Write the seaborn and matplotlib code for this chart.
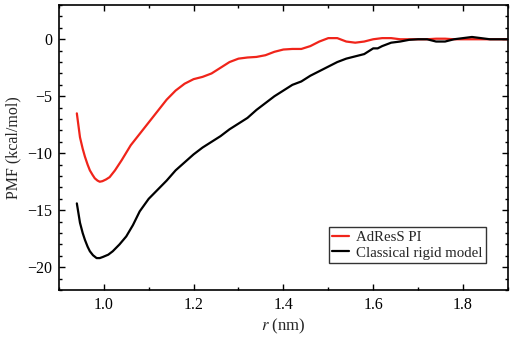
import pandas as pd
import matplotlib
matplotlib.use("Agg")
import matplotlib.pyplot as plt
import seaborn as sns
from matplotlib.ticker import MultipleLocator, FormatStrFormatter

# AdResS PI curve
r_adress = [0.940, 0.947, 0.953, 0.958, 0.964, 0.969, 0.975, 0.980, 0.986, 0.991, 0.997,
            1.005, 1.013, 1.025, 1.04, 1.06, 1.08, 1.10,
            1.12, 1.14, 1.16, 1.18, 1.20, 1.22, 1.24, 1.26, 1.28, 1.30, 1.32, 1.34,
            1.36, 1.38, 1.40, 1.42, 1.44, 1.46, 1.48, 1.50, 1.52, 1.54, 1.56, 1.58,
            1.60, 1.62, 1.64, 1.66, 1.68, 1.70, 1.72, 1.74, 1.76, 1.78, 1.80, 1.82,
            1.84, 1.86, 1.88, 1.90]
pmf_adress = [-6.5, -8.6, -9.6, -10.3, -11.0, -11.5, -11.9, -12.2, -12.4, -12.5, -12.45,
              -12.3, -12.1, -11.5, -10.6, -9.3, -8.3, -7.3,
              -6.3, -5.3, -4.5, -3.9, -3.5, -3.3, -3.0, -2.5, -2.0, -1.7, -1.6, -1.55,
              -1.4, -1.1, -0.9, -0.85, -0.85, -0.6, -0.2, 0.1, 0.1, -0.2, -0.3, -0.2,
              0.0, 0.1, 0.1, 0.0, 0.0, 0.0, 0.0, 0.05, 0.05, 0.0, 0.0, 0.0,
              0.0, 0.0, 0.0, 0.0]

# classical rigid model curve
r_rigid = [0.940, 0.947, 0.953, 0.958, 0.964, 0.969, 0.976, 0.984, 0.991, 0.998,
           1.01, 1.02, 1.035, 1.05, 1.065, 1.08, 1.10,
           1.12, 1.14, 1.16, 1.18, 1.20, 1.22, 1.24, 1.26, 1.28, 1.30, 1.32, 1.34,
           1.36, 1.38, 1.40, 1.42, 1.44, 1.46, 1.48, 1.50, 1.52, 1.54, 1.56, 1.58,
           1.60, 1.61, 1.62, 1.64, 1.66, 1.68, 1.70, 1.72, 1.74, 1.76, 1.78, 1.80,
           1.82, 1.84, 1.86, 1.88, 1.90]
pmf_rigid = [-14.4, -16.1, -17.0, -17.6, -18.2, -18.6, -18.95, -19.2, -19.2, -19.1,
             -18.9, -18.6, -18.0, -17.3, -16.3, -15.1, -14.0,
             -13.2, -12.4, -11.5, -10.8, -10.1, -9.5, -9.0, -8.5, -7.9, -7.4, -6.9, -6.2,
             -5.6, -5.0, -4.5, -4.0, -3.7, -3.2, -2.8, -2.4, -2.0, -1.7, -1.5, -1.3,
             -0.8, -0.8, -0.6, -0.3, -0.2, -0.05, 0.0, 0.0, -0.2, -0.2, 0.0, 0.1,
             0.2, 0.1, 0.0, 0.0, 0.0]

labels = ["AdResS PI", "Classical rigid model"]
colors = ["#f0241a", "black"]

df = pd.concat([
    pd.DataFrame({"r": r_adress, "PMF": pmf_adress, "model": labels[0]}),
    pd.DataFrame({"r": r_rigid, "PMF": pmf_rigid, "model": labels[1]}),
])

sns.set_style("ticks")
plt.rcParams["font.family"] = ["Liberation Serif", "DejaVu Serif"]
plt.rcParams["mathtext.fontset"] = "stix"

fig = plt.figure(figsize=(5.12, 3.38), dpi=100)
ax = fig.add_axes([0.115, 0.142, 0.877, 0.843])

sns.lineplot(data=df, x="r", y="PMF", hue="model", palette=colors,
             linewidth=1.6, sort=False, estimator=None, ax=ax)

ax.set_xlim(0.9, 1.9)
ax.set_ylim(-22, 3)
ax.xaxis.set_major_locator(MultipleLocator(0.2))
ax.xaxis.set_minor_locator(MultipleLocator(0.1))
ax.yaxis.set_major_locator(MultipleLocator(5))
ax.yaxis.set_minor_locator(MultipleLocator(1))
ax.xaxis.set_major_formatter(FormatStrFormatter("%.1f"))
ax.tick_params(which="both", direction="in", top=True, right=True, labelsize=11.5,
               colors="black", width=1)
ax.tick_params(which="major", length=4, pad=5)
ax.tick_params(which="minor", length=2)
for s in ax.spines.values():
    s.set_linewidth(1.2)
    s.set_color("black")

ax.set_xlabel(r"$r$ (nm)", fontsize=12, labelpad=3)
ax.set_ylabel("PMF (kcal/mol)", fontsize=11.5)

leg = ax.legend(loc="lower right", bbox_to_anchor=(0.951, 0.095), fontsize=10.7,
                frameon=True, fancybox=False, edgecolor="black", borderaxespad=0,
                handlelength=1.1, handletextpad=0.5, borderpad=0.22,
                labelspacing=0.15)
leg.get_frame().set_linewidth(1.0)

fig.savefig("out.png", dpi=100)
